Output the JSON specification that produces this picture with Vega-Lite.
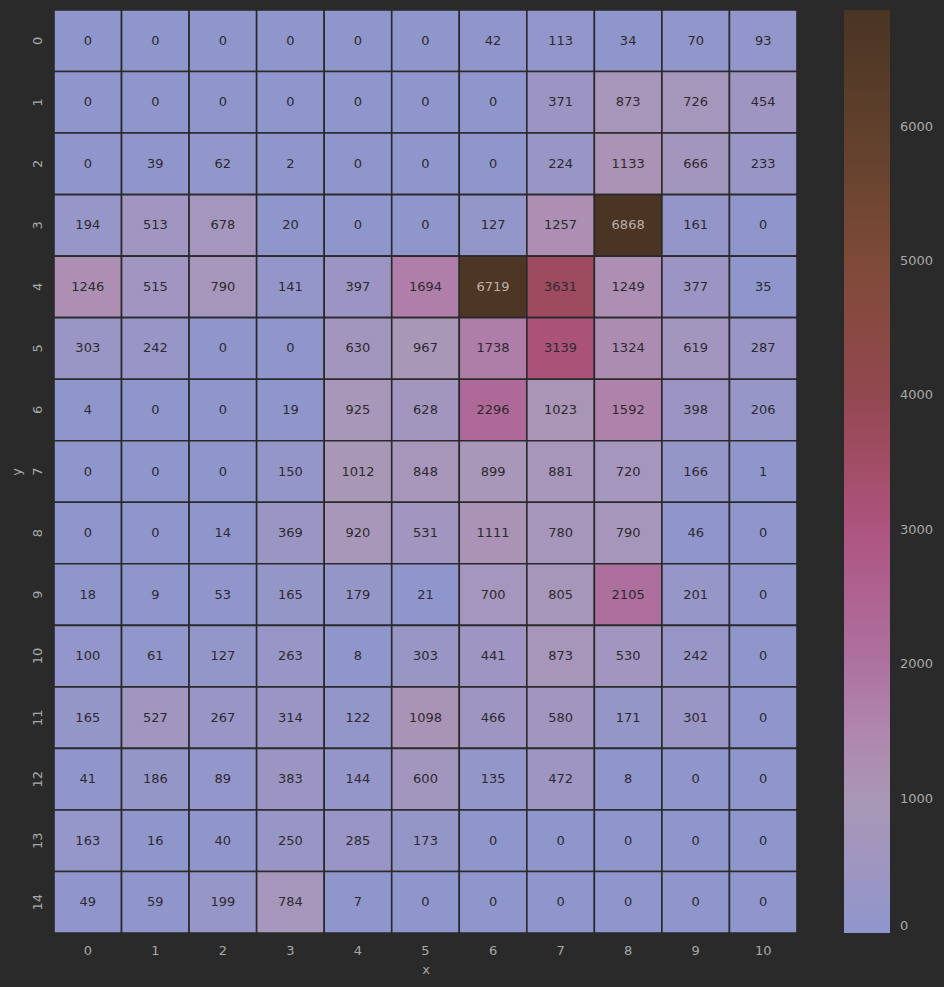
{
  "$schema": "https://vega.github.io/schema/vega-lite/v6.json",
  "width": 743,
  "height": 923,
  "autosize": {"type": "none"},
  "padding": {"left": 54, "top": 10, "right": 147, "bottom": 54},
  "background": "#2a2a2a",
  "config": {
    "font": "DejaVu Sans",
    "view": {"stroke": null},
    "axis": {"labelColor": "#a8a8a8", "titleColor": "#a8a8a8", "labelFontSize": 13, "titleFontSize": 13, "titleFontWeight": "normal", "domain": false, "ticks": false, "grid": false}
  },
  "data": {"values": [
    {"y":0,"x":0,"v":0},{"y":0,"x":1,"v":0},{"y":0,"x":2,"v":0},{"y":0,"x":3,"v":0},{"y":0,"x":4,"v":0},{"y":0,"x":5,"v":0},{"y":0,"x":6,"v":42},{"y":0,"x":7,"v":113},{"y":0,"x":8,"v":34},{"y":0,"x":9,"v":70},{"y":0,"x":10,"v":93},
    {"y":1,"x":0,"v":0},{"y":1,"x":1,"v":0},{"y":1,"x":2,"v":0},{"y":1,"x":3,"v":0},{"y":1,"x":4,"v":0},{"y":1,"x":5,"v":0},{"y":1,"x":6,"v":0},{"y":1,"x":7,"v":371},{"y":1,"x":8,"v":873},{"y":1,"x":9,"v":726},{"y":1,"x":10,"v":454},
    {"y":2,"x":0,"v":0},{"y":2,"x":1,"v":39},{"y":2,"x":2,"v":62},{"y":2,"x":3,"v":2},{"y":2,"x":4,"v":0},{"y":2,"x":5,"v":0},{"y":2,"x":6,"v":0},{"y":2,"x":7,"v":224},{"y":2,"x":8,"v":1133},{"y":2,"x":9,"v":666},{"y":2,"x":10,"v":233},
    {"y":3,"x":0,"v":194},{"y":3,"x":1,"v":513},{"y":3,"x":2,"v":678},{"y":3,"x":3,"v":20},{"y":3,"x":4,"v":0},{"y":3,"x":5,"v":0},{"y":3,"x":6,"v":127},{"y":3,"x":7,"v":1257},{"y":3,"x":8,"v":6868},{"y":3,"x":9,"v":161},{"y":3,"x":10,"v":0},
    {"y":4,"x":0,"v":1246},{"y":4,"x":1,"v":515},{"y":4,"x":2,"v":790},{"y":4,"x":3,"v":141},{"y":4,"x":4,"v":397},{"y":4,"x":5,"v":1694},{"y":4,"x":6,"v":6719},{"y":4,"x":7,"v":3631},{"y":4,"x":8,"v":1249},{"y":4,"x":9,"v":377},{"y":4,"x":10,"v":35},
    {"y":5,"x":0,"v":303},{"y":5,"x":1,"v":242},{"y":5,"x":2,"v":0},{"y":5,"x":3,"v":0},{"y":5,"x":4,"v":630},{"y":5,"x":5,"v":967},{"y":5,"x":6,"v":1738},{"y":5,"x":7,"v":3139},{"y":5,"x":8,"v":1324},{"y":5,"x":9,"v":619},{"y":5,"x":10,"v":287},
    {"y":6,"x":0,"v":4},{"y":6,"x":1,"v":0},{"y":6,"x":2,"v":0},{"y":6,"x":3,"v":19},{"y":6,"x":4,"v":925},{"y":6,"x":5,"v":628},{"y":6,"x":6,"v":2296},{"y":6,"x":7,"v":1023},{"y":6,"x":8,"v":1592},{"y":6,"x":9,"v":398},{"y":6,"x":10,"v":206},
    {"y":7,"x":0,"v":0},{"y":7,"x":1,"v":0},{"y":7,"x":2,"v":0},{"y":7,"x":3,"v":150},{"y":7,"x":4,"v":1012},{"y":7,"x":5,"v":848},{"y":7,"x":6,"v":899},{"y":7,"x":7,"v":881},{"y":7,"x":8,"v":720},{"y":7,"x":9,"v":166},{"y":7,"x":10,"v":1},
    {"y":8,"x":0,"v":0},{"y":8,"x":1,"v":0},{"y":8,"x":2,"v":14},{"y":8,"x":3,"v":369},{"y":8,"x":4,"v":920},{"y":8,"x":5,"v":531},{"y":8,"x":6,"v":1111},{"y":8,"x":7,"v":780},{"y":8,"x":8,"v":790},{"y":8,"x":9,"v":46},{"y":8,"x":10,"v":0},
    {"y":9,"x":0,"v":18},{"y":9,"x":1,"v":9},{"y":9,"x":2,"v":53},{"y":9,"x":3,"v":165},{"y":9,"x":4,"v":179},{"y":9,"x":5,"v":21},{"y":9,"x":6,"v":700},{"y":9,"x":7,"v":805},{"y":9,"x":8,"v":2105},{"y":9,"x":9,"v":201},{"y":9,"x":10,"v":0},
    {"y":10,"x":0,"v":100},{"y":10,"x":1,"v":61},{"y":10,"x":2,"v":127},{"y":10,"x":3,"v":263},{"y":10,"x":4,"v":8},{"y":10,"x":5,"v":303},{"y":10,"x":6,"v":441},{"y":10,"x":7,"v":873},{"y":10,"x":8,"v":530},{"y":10,"x":9,"v":242},{"y":10,"x":10,"v":0},
    {"y":11,"x":0,"v":165},{"y":11,"x":1,"v":527},{"y":11,"x":2,"v":267},{"y":11,"x":3,"v":314},{"y":11,"x":4,"v":122},{"y":11,"x":5,"v":1098},{"y":11,"x":6,"v":466},{"y":11,"x":7,"v":580},{"y":11,"x":8,"v":171},{"y":11,"x":9,"v":301},{"y":11,"x":10,"v":0},
    {"y":12,"x":0,"v":41},{"y":12,"x":1,"v":186},{"y":12,"x":2,"v":89},{"y":12,"x":3,"v":383},{"y":12,"x":4,"v":144},{"y":12,"x":5,"v":600},{"y":12,"x":6,"v":135},{"y":12,"x":7,"v":472},{"y":12,"x":8,"v":8},{"y":12,"x":9,"v":0},{"y":12,"x":10,"v":0},
    {"y":13,"x":0,"v":163},{"y":13,"x":1,"v":16},{"y":13,"x":2,"v":40},{"y":13,"x":3,"v":250},{"y":13,"x":4,"v":285},{"y":13,"x":5,"v":173},{"y":13,"x":6,"v":0},{"y":13,"x":7,"v":0},{"y":13,"x":8,"v":0},{"y":13,"x":9,"v":0},{"y":13,"x":10,"v":0},
    {"y":14,"x":0,"v":49},{"y":14,"x":1,"v":59},{"y":14,"x":2,"v":199},{"y":14,"x":3,"v":784},{"y":14,"x":4,"v":7},{"y":14,"x":5,"v":0},{"y":14,"x":6,"v":0},{"y":14,"x":7,"v":0},{"y":14,"x":8,"v":0},{"y":14,"x":9,"v":0},{"y":14,"x":10,"v":0}
  ]},
  "encoding": {
    "x": {"field": "x", "type": "ordinal", "title": "x", "scale": {"paddingInner": 0, "paddingOuter": 0}, "axis": {"labelAngle": 0, "labelPadding": 11, "titlePadding": 6}},
    "y": {"field": "y", "type": "ordinal", "title": "y", "scale": {"paddingInner": 0, "paddingOuter": 0}, "axis": {"labelAngle": 270, "labelAlign": "center", "labelBaseline": "bottom", "labelPadding": 10, "titlePadding": 8}}
  },
  "layer": [
    {
      "mark": {"type": "rect", "stroke": "#2a2a2a", "strokeWidth": 1.6},
      "encoding": {
        "color": {
          "field": "v", "type": "quantitative", "title": null,
          "scale": {
            "domain": [0, 1000, 1500, 2000, 3000, 4000, 5000, 6000, 6868],
            "range": ["#8e96cc", "#a997b6", "#b086ae", "#ad72a0", "#ae5480", "#924850", "#7e4a38", "#5f402c", "#4a3424"]
          },
          "legend": {
            "orient": "none", "legendX": 790, "legendY": 0, "direction": "vertical",
            "gradientLength": 923, "gradientThickness": 46, "gradientStrokeWidth": 0,
            "values": [0, 1000, 2000, 3000, 4000, 5000, 6000], "format": "d",
            "labelFontSize": 13, "labelColor": "#a8a8a8", "labelOffset": 10, "labelOverlap": false
          }
        }
      }
    },
    {
      "mark": {"type": "text", "fontSize": 13},
      "encoding": {
        "text": {"field": "v", "type": "quantitative", "format": "d"},
        "color": {"condition": {"test": "datum.v > 4500", "value": "#bcb0a4"}, "value": "#2e2a30"}
      }
    }
  ]
}
